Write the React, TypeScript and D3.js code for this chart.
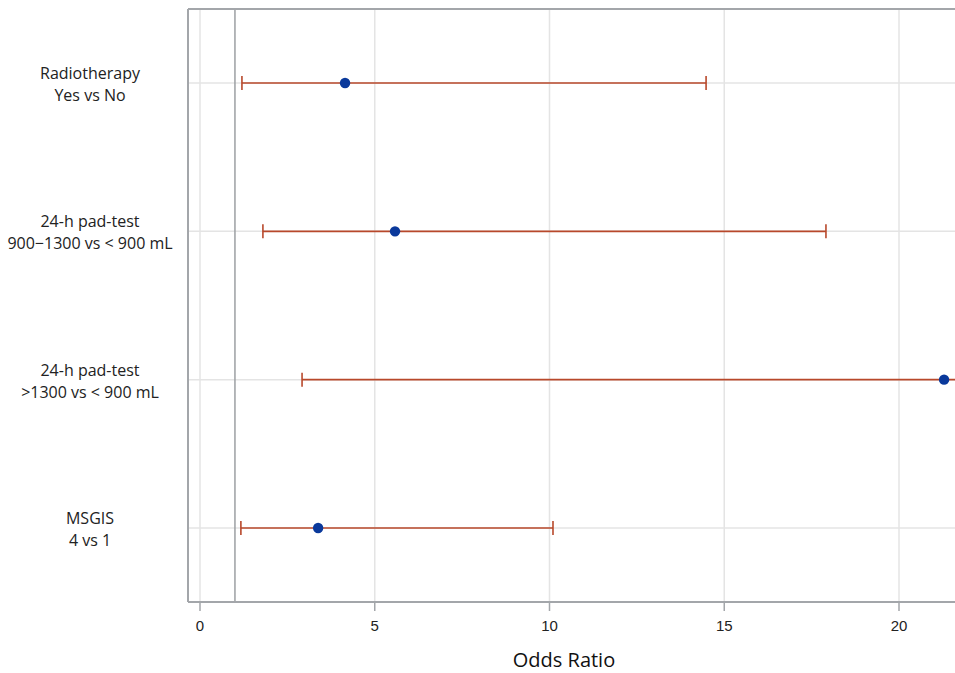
import React from "react";
import * as d3 from "d3";

const labelsLine1 = ["Radiotherapy", "24-h pad-test", "24-h pad-test", "MSGIS"];
const labelsLine2 = ["Yes vs No", "900\u22121300 vs < 900 mL", ">1300 vs < 900 mL", "4 vs 1"];
const estimates = [4.15, 5.58, 21.29, 3.38];
const lowers = [1.2, 1.8, 2.92, 1.17];
const uppers = [14.48, 17.91, 60, 10.1];
const xTicks = [0, 5, 10, 15, 20];
const refValue = 1;

export default function App() {
  const W = 955, H = 673;
  const frameL = 188, frameT = 9, frameB = 602, frameR = 975;
  const x = d3.scaleLinear().domain([0, 20]).range([200, 899]);
  const y = d3.scalePoint<number>().domain(d3.range(estimates.length)).range([83, 528]);
  const frame = "#a3a6aa";
  const grid = "#e4e4e4";
  const bar = "#b8482b";
  const dot = "#0a399b";
  const labFont = "'Open Sans', 'Noto Sans', sans-serif";
  return (
    <svg width={W} height={H} style={{ position: "absolute", left: 0, top: 0, background: "#fff" }}>
      <defs>
        <clipPath id="plotclip">
          <rect x={frameL} y={frameT} width={frameR - frameL} height={frameB - frameT} />
        </clipPath>
      </defs>
      {xTicks.map((t) => (
        <line key={"g" + t} x1={x(t)} x2={x(t)} y1={frameT} y2={frameB} stroke={grid} strokeWidth={1.5} />
      ))}
      {estimates.map((_, i) => (
        <line key={"h" + i} x1={frameL} x2={frameR} y1={y(i)!} y2={y(i)!} stroke={grid} strokeWidth={1.5} />
      ))}
      <line x1={x(refValue)} x2={x(refValue)} y1={frameT} y2={frameB} stroke="#9c9fa3" strokeWidth={1.5} />
      <line x1={frameL} x2={frameL} y1={frameT} y2={frameB} stroke={frame} strokeWidth={2} />
      <line x1={frameL} x2={frameR} y1={frameT} y2={frameT} stroke={frame} strokeWidth={2} />
      <line x1={frameL} x2={frameR} y1={frameB} y2={frameB} stroke={frame} strokeWidth={2} />
      {xTicks.map((t) => (
        <g key={"t" + t}>
          <line x1={x(t)} x2={x(t)} y1={frameB} y2={frameB + 9} stroke={frame} strokeWidth={1.5} />
          <text x={x(t)} y={frameB + 29} textAnchor="middle" fontFamily="'Liberation Sans', Arial, sans-serif" fontSize={15} fill="#222">
            {t}
          </text>
        </g>
      ))}
      <g clipPath="url(#plotclip)">
        {estimates.map((e, i) => {
          const cy = y(i)!;
          return (
            <g key={"e" + i}>
              <line x1={x(lowers[i])} x2={x(uppers[i])} y1={cy} y2={cy} stroke={bar} strokeWidth={1.6} />
              <line x1={x(lowers[i])} x2={x(lowers[i])} y1={cy - 7} y2={cy + 7} stroke={bar} strokeWidth={1.6} />
              <line x1={x(uppers[i])} x2={x(uppers[i])} y1={cy - 7} y2={cy + 7} stroke={bar} strokeWidth={1.6} />
              <circle cx={x(e)} cy={cy} r={5.2} fill={dot} />
            </g>
          );
        })}
      </g>
      {estimates.map((_, i) => (
        <text key={"l" + i} x={90} textAnchor="middle" fontFamily={labFont} fontSize={16} fill="#222">
          <tspan x={90} y={y(i)! - 4}>{labelsLine1[i]}</tspan>
          <tspan x={90} y={y(i)! + 18}>{labelsLine2[i]}</tspan>
        </text>
      ))}
      <text x={564} y={667} textAnchor="middle" fontFamily={labFont} fontSize={20} fill="#111">
        Odds Ratio
      </text>
    </svg>
  );
}
